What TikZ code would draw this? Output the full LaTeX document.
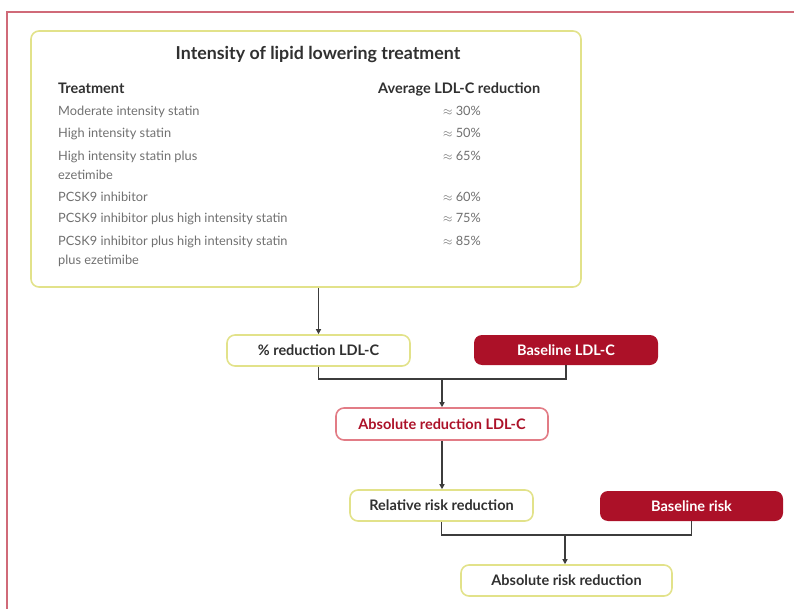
\documentclass[tikz,border=0pt]{standalone}
\usepackage{fontspec}
\setmainfont{Lato}
\usetikzlibrary{arrows.meta}
\definecolor{boxyellow}{HTML}{E2E28A}
\definecolor{darkred}{HTML}{AC1128}
\definecolor{pinkred}{HTML}{E27C86}
\definecolor{framered}{HTML}{D06A78}
\definecolor{txtgray}{HTML}{707070}
\definecolor{txtdark}{HTML}{303030}
\definecolor{linegray}{HTML}{3C3C3C}
\tikzset{ybox/.style = {draw=boxyellow, line width=1.6, rounded corners=8, minimum height=31, text=txtdark, font=\bfseries\fontsize{14.5}{16}\selectfont}}
\tikzset{rbox/.style = {fill=darkred, rounded corners=8, minimum height=30, text=white, font=\bfseries\fontsize{14.5}{16}\selectfont}}
\tikzset{pbox/.style = {draw=pinkred, line width=1.6, rounded corners=8, minimum height=32, text=darkred, font=\bfseries\fontsize{14.5}{16}\selectfont}}
\tikzset{row/.style = {anchor=base west, inner sep=0, text=txtgray, font=\fontsize{12.8}{14}\selectfont}}
\tikzset{pct/.style = {anchor=base, inner sep=0, text=txtgray, font=\fontsize{12.8}{14}\selectfont}}
\tikzset{head/.style = {anchor=base west, inner sep=0, text=txtdark, font=\bfseries\fontsize{14.5}{16}\selectfont}}
\tikzset{link/.style = {draw=linegray, line width=1.3}}
\tikzset{arr/.style = {link, -{Triangle[length=5, width=5]}}}

\begin{document}
\begin{tikzpicture}[x=1pt, y=-1pt]
\useasboundingbox (0,0) rectangle (794,609);
\draw[framered, line width=1.8] (7,609) -- (7,12) -- (794,12);

\node[ybox, minimum width=550, minimum height=256] (intensity) at (306,159) {};
\node[text=txtdark, font=\bfseries\fontsize{17.8}{20}\selectfont] (title) at (318,54) {Intensity of lipid lowering treatment};
\node[head] (thead) at (58,94) {Treatment};
\node[head] (rhead) at (378,94) {Average LDL-C reduction};
\node[row] (t1) at (58,116) {Moderate intensity statin};
\node[row] (t2) at (58,138) {High intensity statin};
\node[row] (t3) at (58,161) {High intensity statin plus};
\node[row] (t3b) at (58,180) {ezetimibe};
\node[row] (t4) at (58,202) {PCSK9 inhibitor};
\node[row] (t5) at (58,223) {PCSK9 inhibitor plus high intensity statin};
\node[row] (t6) at (58,246) {PCSK9 inhibitor plus high intensity statin};
\node[row] (t6b) at (58,265) {plus ezetimibe};
\node[pct] (p1) at (462,116) {$\approx$ 30\%};
\node[pct] (p2) at (462,138) {$\approx$ 50\%};
\node[pct] (p3) at (462,161) {$\approx$ 65\%};
\node[pct] (p4) at (462,202) {$\approx$ 60\%};
\node[pct] (p5) at (462,223) {$\approx$ 75\%};
\node[pct] (p6) at (462,246) {$\approx$ 85\%};

\node[ybox, minimum width=183] (pctred) at (318.5,350.5) {\% reduction LDL-C};
\node[rbox, minimum width=184] (baseldl) at (566,350) {Baseline LDL-C};
\node[pbox, minimum width=212] (absldl) at (442,424) {Absolute reduction LDL-C};
\node[ybox, minimum width=183] (relrisk) at (441.5,505.5) {Relative risk reduction};
\node[rbox, minimum width=183] (baserisk) at (691.5,506) {Baseline risk};
\node[ybox, minimum width=211] (absrisk) at (566.5,580.5) {Absolute risk reduction};

\coordinate (j1) at (442,379);
\coordinate (j2) at (565,535);
\draw[arr] (intensity.south -| pctred.north) -- (pctred.north);
\draw[link] (pctred.south) |- (j1) -| (baseldl.south);
\draw[arr] (j1) -- (absldl.north);
\draw[arr] (absldl.south) -- (absldl.south |- relrisk.north);
\draw[link] (relrisk.south) |- (j2) -| (baserisk.south);
\draw[arr] (j2) -- (j2 |- absrisk.north);
\end{tikzpicture}
\end{document}
